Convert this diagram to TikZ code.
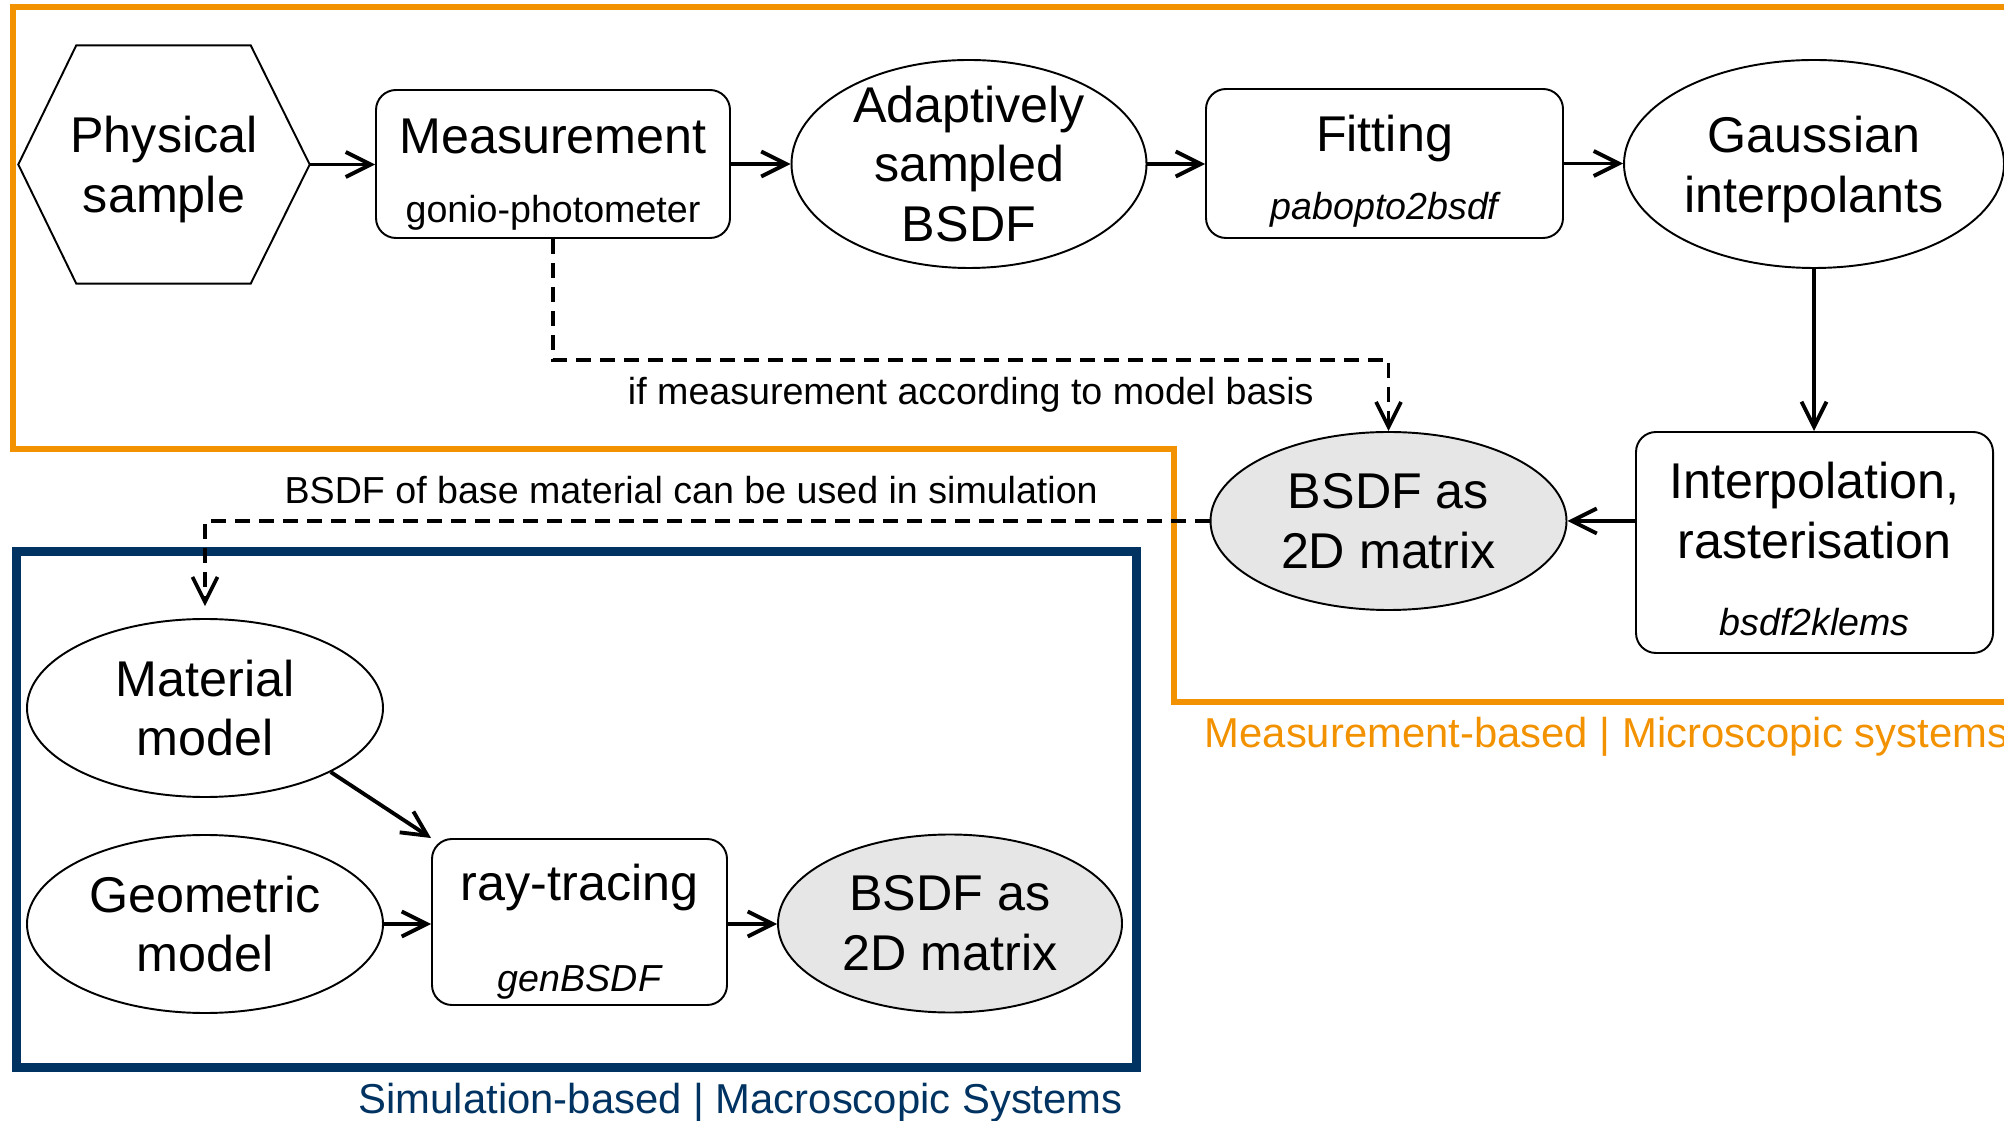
\documentclass[tikz,border=0pt]{standalone}
\usepackage{fontspec}
\setmainfont{Liberation Sans}
\usetikzlibrary{shapes.geometric,arrows.meta}

\definecolor{measorange}{HTML}{F39200}
\definecolor{simblue}{HTML}{003361}
\definecolor{matgray}{HTML}{E6E6E6}

\newcommand{\bigtxt}{\fontsize{14.3}{17}\selectfont}
\newcommand{\smalltxt}{\fontsize{10.7}{13}\selectfont}
\newcommand{\legendtxt}{\fontsize{11.9}{14}\selectfont}

\tikzset{
	blob/.style = {draw, ellipse, line width=0.55pt, inner sep=0pt, align=center, font=\bigtxt},
	proc/.style = {draw, rectangle, rounded corners=0.2cm, line width=0.55pt, inner sep=0pt, align=center, font=\bigtxt},
	flow/.style = {-{Straight Barb[length=2.5mm,width=2.5mm]}, line width=1.1pt},
	cond/.style = {-{Straight Barb[length=2.5mm,width=2.5mm]}, line width=1.05pt, dash pattern=on 1.5mm off 0.9mm},
	condlabel/.style = {font=\smalltxt, inner sep=0pt},
	legend/.style = {font=\legendtxt, inner sep=0pt, anchor=base west}
}

\begin{document}
\begin{tikzpicture}
	\useasboundingbox (0,0) rectangle (20.04,-11.21);

	\draw [measorange, line width=0.06cm] (20.3,-0.075) -- (0.13,-0.075) -- (0.13,-4.49) -- (11.74,-4.49) -- (11.74,-7.02) -- (20.3,-7.02);
	\draw [simblue, line width=0.09cm] (0.165,-5.52) rectangle (11.36,-10.67);

	\node (phys) [inner sep=0pt, minimum width=2.9cm, minimum height=2.37cm, align=center, font=\bigtxt, text depth=0pt] at (1.64,-1.645) {Physical\\sample};
	\draw [line width=0.55pt] (phys.west) -- ([xshift=0.58cm]phys.north west) -- ([xshift=-0.59cm]phys.north east) -- (phys.east) -- ([xshift=-0.59cm]phys.south east) -- ([xshift=0.58cm]phys.south west) -- cycle;

	\node (meas) [proc, minimum width=3.54cm, minimum height=1.48cm, text height=1.25cm, text depth=0.08cm] at (5.53,-1.64) {Measurement\\[0.09cm]{\smalltxt gonio-photometer}};
	\node (adapt) [blob, inner ysep=-0.2cm, minimum width=3.55cm, minimum height=2.08cm] at (9.69,-1.64) {Adaptively\\sampled\\BSDF};
	\node (fit) [proc, minimum width=3.57cm, minimum height=1.49cm, text height=1.21cm, text depth=0.08cm] at (13.845,-1.635) {Fitting\\[0.09cm]{\smalltxt\itshape pabopto2bsdf}};
	\node (gauss) [blob, minimum width=3.8cm, minimum height=2.08cm, text depth=0pt] at (18.14,-1.64) {Gaussian\\interpolants};
	\node (interp) [proc, minimum width=3.57cm, minimum height=2.21cm, text height=1.87cm, text depth=0cm] at (18.145,-5.425) {Interpolation,\\rasterisation\\[0.18cm]{\smalltxt\itshape bsdf2klems}};
	\node (bsdfm) [blob, fill=matgray, minimum width=3.56cm, minimum height=1.78cm] at (13.885,-5.21) {BSDF as\\2D matrix};

	\node (matm) [blob, minimum width=3.56cm, minimum height=1.78cm] at (2.05,-7.08) {Material\\model};
	\node (geom) [blob, minimum width=3.56cm, minimum height=1.78cm] at (2.05,-9.24) {Geometric\\model};
	\node (ray) [proc, minimum width=2.95cm, minimum height=1.66cm, text height=1.46cm, text depth=0.08cm] at (5.795,-9.22) {ray-tracing\\[0.31cm]{\smalltxt\itshape genBSDF}};
	\node (bsdfs) [blob, fill=matgray, minimum width=3.44cm, minimum height=1.78cm] at (9.5,-9.235) {BSDF as\\2D matrix};

	\draw [flow] (phys.east) -- (phys.east -| meas.west);
	\draw [flow] (meas.east) -- (meas.east -| adapt.west);
	\draw [flow] (adapt.east) -- (adapt.east -| fit.west);
	\draw [flow] (fit.east) -- (fit.east -| gauss.west);
	\draw [flow] (gauss.south) -- (gauss.south |- interp.north);
	\draw [flow] (interp.west |- bsdfm.east) -- (bsdfm.east);

	\coordinate (basis) at (5.53,-3.6);
	\draw [cond] (meas.south) -- (basis) -| (bsdfm.north) node [condlabel, pos=0.25, below=0.15cm] {if measurement according to model basis};
	\draw [cond, shorten >=0.12cm] (bsdfm.west) -| (matm.north) node [condlabel, pos=0.258, above=0.15cm] {BSDF of base material can be used in simulation};

	\draw [flow] (matm.-27) -- (ray.north west);
	\draw [flow] (geom.east) -- (geom.east -| ray.west);
	\draw [flow] (ray.east |- geom.east) -- (geom.east -| bsdfs.west);

	\node (measlegend) [legend, text=measorange] at (12.04,-7.48) {Measurement-based | Microscopic systems};
	\node (simlegend) [legend, text=simblue] at (3.58,-11.13) {Simulation-based | Macroscopic Systems};
\end{tikzpicture}
\end{document}
